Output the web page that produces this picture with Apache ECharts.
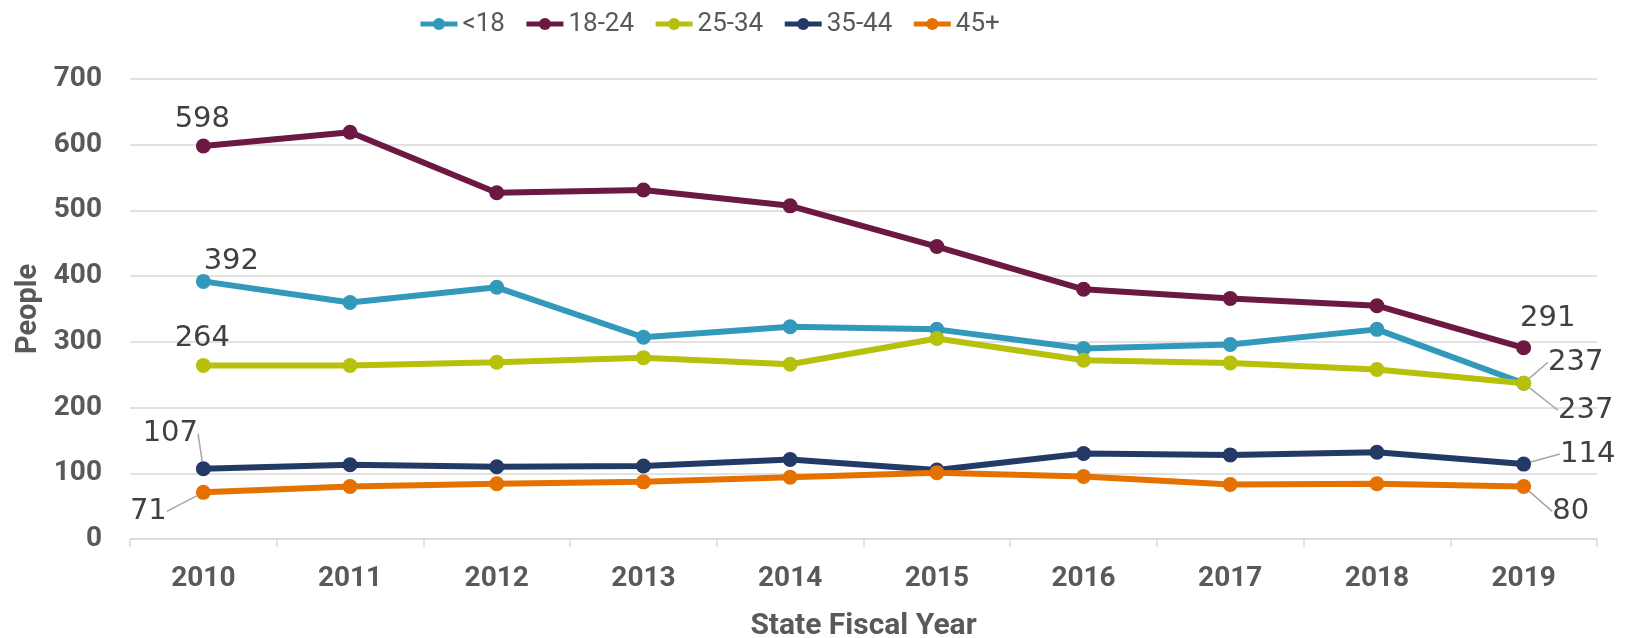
<!DOCTYPE html>
<html>
<head>
<meta charset="utf-8">
<script src="https://cdn.jsdelivr.net/npm/echarts@6/dist/echarts.min.js"></script>
<style>
  html, body { margin: 0; padding: 0; background: #fff; }
  #chart { width: 1631px; height: 638px; }
</style>
</head>
<body>
<div id="chart"></div>
<script>
/* ===== data ===== */
const years = ["2010", "2011", "2012", "2013", "2014", "2015", "2016", "2017", "2018", "2019"];
const under18 = [392, 360, 383, 307, 323, 319, 290, 296, 319, 237];
const age18to24 = [598, 619, 527, 531, 507, 445, 380, 366, 355, 291];
const age25to34 = [264, 264, 269, 276, 266, 305, 272, 268, 258, 237];
const age35to44 = [107, 113, 110, 111, 121, 105, 130, 128, 132, 114];
const age45plus = [71, 80, 84, 87, 94, 101, 95, 83, 84, 80];
const yTicks = [0, 100, 200, 300, 400, 500, 600, 700];

/* ===== styles ===== */
const boldFont = "Roboto, 'Liberation Sans', sans-serif";
const labelFont = "'DejaVu Sans', sans-serif";
const gridGray = "#d9d9d9";

// label offsets from the point (first / last point only)
const labelMoves = {
  "<18":   { 0: [28, -20], 9: [62, 27] },
  "18-24": { 0: [-1, -27], 9: [24, -29] },
  "25-34": { 0: [-1, -27], 9: [52, -21] },
  "35-44": { 0: [-33, -35], 9: [64, -10] },
  "45+":   { 0: [-55, 19], 9: [47, 25] },
};
const withLine = { "<18": [9], "25-34": [9], "35-44": [0, 9], "45+": [0, 9] };

function makeSeries(name, values, color) {
  const moves = labelMoves[name];
  const lines = withLine[name] || [];
  return {
    name: name,
    type: "line",
    data: values.map((v, i) => ({
      value: v,
      label: { show: moves[i] != null },
      labelLine: { show: lines.includes(i) },
    })),
    symbol: "circle",
    symbolSize: 15,
    lineStyle: { width: 6, color: color },
    itemStyle: { color: color },
    label: {
      position: "inside",
      fontFamily: labelFont,
      fontSize: 29,
      color: "#404040",
    },
    labelLine: {
      lineStyle: { color: "#a6a6a6", width: 1.5 },
    },
    labelLayout: (p) => {
      const m = moves[p.dataIndex];
      return m ? { dx: m[0], dy: m[1] } : {};
    },
    emphasis: { disabled: true },
  };
}

const chart = echarts.init(document.getElementById("chart"));
chart.setOption({
  animation: false,
  legend: {
    left: 413,
    top: 6,
    itemWidth: 37,
    itemHeight: 15,
    itemGap: 19,
    lineStyle: { width: 5 },
    textStyle: { fontFamily: "Roboto, sans-serif", fontSize: 26, color: "#595959" },
    data: ["<18", "18-24", "25-34", "35-44", "45+"],
  },
  grid: { left: 130, right: 34, top: 79, bottom: 99, containLabel: false, outerBoundsMode: "none" },
  xAxis: {
    type: "category",
    data: years,
    boundaryGap: true,
    axisLine: { lineStyle: { color: gridGray, width: 1.5 } },
    axisTick: { show: true, length: 8, lineStyle: { color: gridGray, width: 1.5 } },
    axisLabel: {
      margin: 26,
      fontFamily: boldFont,
      fontWeight: "bold",
      fontSize: 28,
      color: "#595959",
    },
    name: "State Fiscal Year",
    nameLocation: "middle",
    nameGap: 72,
    nameTextStyle: { fontFamily: boldFont, fontWeight: "bold", fontSize: 30, color: "#595959" },
  },
  yAxis: {
    type: "value",
    min: yTicks[0],
    max: yTicks[yTicks.length - 1],
    interval: 100,
    axisLine: { show: false },
    axisTick: { show: false },
    splitLine: { lineStyle: { color: gridGray, width: 1.5 } },
    axisLabel: {
      margin: 28,
      fontFamily: boldFont,
      fontWeight: "bold",
      fontSize: 28,
      color: "#595959",
    },
    name: "People",
    nameLocation: "middle",
    nameGap: 82,
    nameTextStyle: { fontFamily: boldFont, fontWeight: "bold", fontSize: 29, color: "#595959" },
  },
  series: [
    makeSeries("<18", under18, "#3399bb"),
    makeSeries("18-24", age18to24, "#6b1942"),
    makeSeries("25-34", age25to34, "#b7c10c"),
    makeSeries("35-44", age35to44, "#243a66"),
    makeSeries("45+", age45plus, "#e57200"),
  ],
});
</script>
</body>
</html>
